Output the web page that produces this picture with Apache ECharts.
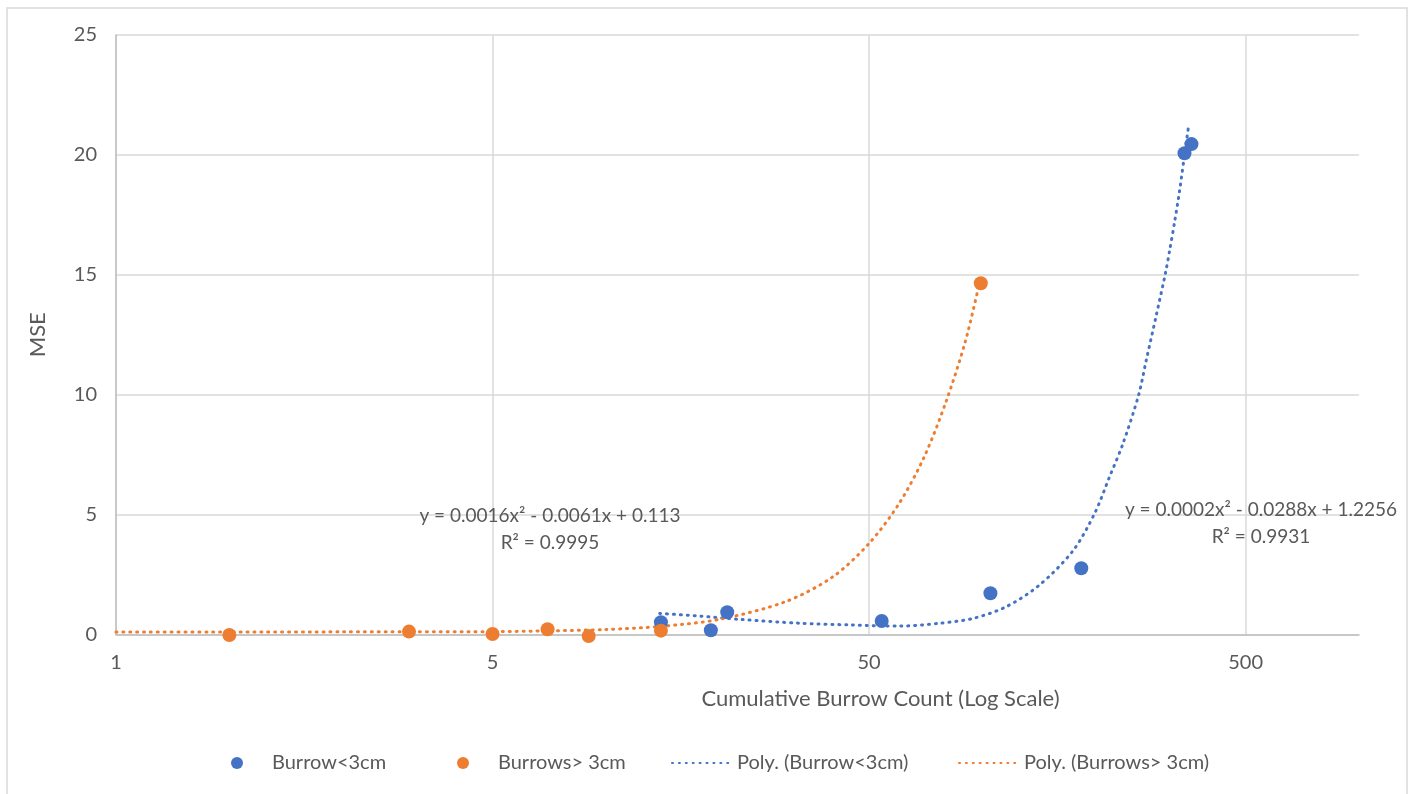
<!DOCTYPE html>
<html>
<head>
<meta charset="utf-8">
<script src="https://cdn.jsdelivr.net/npm/echarts@6/dist/echarts.min.js"></script>
<style>html,body{margin:0;padding:0;background:#fff}#c{width:1418px;height:794px}</style>
</head>
<body>
<div id="c"></div>
<script>
// ---- data ----
const xTickValues = [0.5, 5, 50, 500];
const xTickLabels = ['1', '5', '50', '500'];
const yTickValues = [0, 5, 10, 15, 20, 25];

const seriesNames = ['Burrow<3cm', 'Burrows> 3cm', 'Poly. (Burrow<3cm)', 'Poly. (Burrows> 3cm)'];

const smallX = [14, 19, 21, 54, 105, 183, 344, 359];
const smallY = [0.51, 0.18, 0.93, 0.56, 1.72, 2.76, 20.07, 20.45];

const largeX = [1, 3, 5, 7, 9, 14, 99];
const largeY = [-0.02, 0.12, 0.02, 0.22, -0.06, 0.16, 14.65];

const smallTrendX = [13.9, 17.7, 22.7, 32.7, 44.4, 60.3, 77, 94.3, 115.7, 141.9, 173.9, 198.6, 217.6, 236, 259.8, 272.3, 289.4, 306.5, 314, 323.8, 333.8, 342.7, 352.7];
const smallTrendY = [0.88, 0.77, 0.63, 0.47, 0.40, 0.35, 0.47, 0.67, 1.16, 2.07, 3.49, 5.05, 6.58, 7.95, 9.98, 11.44, 13.3, 15.1, 16.0, 17.2, 18.5, 19.8, 21.2];

const largeTrendX = [0.5, 1, 2, 3, 5, 7, 10, 14, 20, 30, 40, 50, 60, 70, 80, 90, 98];
const largeTrendY = [0.1, 0.1, 0.11, 0.11, 0.12, 0.15, 0.21, 0.34, 0.63, 1.37, 2.4, 3.8, 5.45, 7.4, 9.7, 12.2, 14.6];

const eqSmall = 'y = 0.0002x² - 0.0288x + 1.2256\nR² = 0.9931';
const eqLarge = 'y = 0.0016x² - 0.0061x + 0.113\nR² = 0.9995';

// ---- chart ----
const BLUE = '#4472C4', ORANGE = '#ED7D31', TXT = '#595959', FONT = 'Lato';
const zip = (xs, ys) => xs.map((x, i) => [x, ys[i]]);
const legendLefts = [231, 457, 671, 958];

const chart = echarts.init(document.getElementById('c'), null, {renderer: 'canvas'});
const dotted = c => ({color: c, width: 3, type: [1, 5.9], cap: 'round'});

chart.setOption({
  animation: false,
  backgroundColor: '#fff',
  textStyle: {fontFamily: FONT},
  grid: {left: 116, right: 59, top: 35, bottom: 159.5, containLabel: false},
  xAxis: {
    type: 'log', logBase: 10, min: 0.5, max: 1000,
    name: 'Cumulative Burrow Count (Log Scale)',
    nameLocation: 'middle', nameGap: 53,
    nameTextStyle: {fontSize: 22, color: TXT, fontFamily: FONT, padding: [0, 0, 0, 286]},
    axisLine: {show: true, onZero: false, lineStyle: {color: '#bfbfbf', width: 1.5}},
    axisTick: {show: false, customValues: xTickValues},
    axisLabel: {
      customValues: xTickValues, margin: 18, fontSize: 20, color: TXT, fontFamily: FONT,
      formatter: v => {
        const i = xTickValues.findIndex(t => Math.abs(t - v) / t < 1e-6);
        return i >= 0 ? xTickLabels[i] : '';
      }
    },
    splitLine: {show: true, lineStyle: {color: '#d9d9d9', width: 1.5}},
    minorTick: {show: false}, minorSplitLine: {show: false}
  },
  yAxis: {
    type: 'value', min: 0, max: 25, interval: 5,
    name: 'MSE', nameLocation: 'middle', nameGap: 67,
    nameTextStyle: {fontSize: 22, color: TXT, fontFamily: FONT},
    axisLine: {show: true, lineStyle: {color: '#bfbfbf', width: 1.5}},
    axisTick: {show: false},
    axisLabel: {margin: 19, fontSize: 20, color: TXT, fontFamily: FONT,
      formatter: v => yTickValues.includes(v) ? String(v) : ''},
    splitLine: {show: true, lineStyle: {color: '#d9d9d9', width: 1.5}}
  },
  legend: seriesNames.map((n, i) => ({
    data: [{name: n, itemStyle: i >= 2 ? {opacity: 0} : undefined}],
    left: legendLefts[i], top: 753, padding: 0,
    itemWidth: 60, itemHeight: 12,
    textStyle: {fontSize: 20, color: TXT, fontFamily: FONT}
  })),
  graphic: [
    {type: 'rect', silent: true, z: -10,
      shape: {x: 7, y: 8, width: 1400, height: 800},
      style: {fill: null, stroke: '#d9d9d9', lineWidth: 1.5}},
    {type: 'text', silent: true, x: 550, y: 502, z: 10,
      style: {text: eqLarge, font: '19px Lato', fill: TXT, align: 'center', verticalAlign: 'top', lineHeight: 27}},
    {type: 'text', silent: true, x: 1261, y: 496, z: 10,
      style: {text: eqSmall, font: '19px Lato', fill: TXT, align: 'center', verticalAlign: 'top', lineHeight: 27}}
  ],
  series: [
    {name: seriesNames[2], type: 'line', data: zip(smallTrendX, smallTrendY), smooth: 0.3,
      showSymbol: false, symbol: 'none', lineStyle: dotted(BLUE), itemStyle: {color: BLUE}, z: 2, clip: false},
    {name: seriesNames[3], type: 'line', data: zip(largeTrendX, largeTrendY), smooth: 0.3,
      showSymbol: false, symbol: 'none', lineStyle: dotted(ORANGE), itemStyle: {color: ORANGE}, z: 2, clip: false},
    {name: seriesNames[0], type: 'scatter', data: zip(smallX, smallY), symbolSize: 14,
      itemStyle: {color: BLUE, opacity: 1}, z: 4, clip: false},
    {name: seriesNames[1], type: 'scatter', data: zip(largeX, largeY), symbolSize: 14,
      itemStyle: {color: ORANGE, opacity: 1}, z: 4, clip: false}
  ]
});
</script>
</body>
</html>
